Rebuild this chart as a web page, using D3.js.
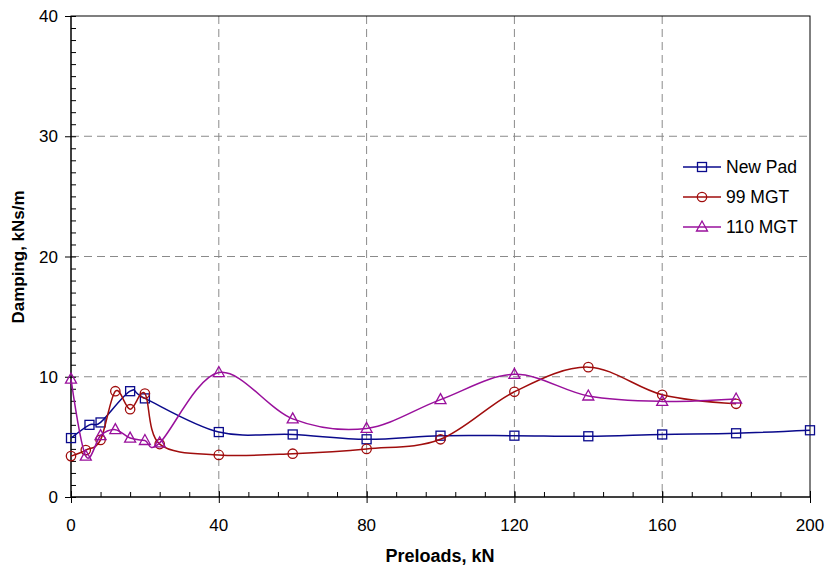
<!DOCTYPE html>
<html>
<head>
<meta charset="utf-8">
<script src="https://cdnjs.cloudflare.com/ajax/libs/d3/7.8.5/d3.min.js"></script>
<style>
  body { margin: 0; background: #fff; }
  text { font-family: "Liberation Sans", Arial, sans-serif; fill: #000; }
</style>
</head>
<body>
<script>
// data
var padX = [0, 5, 8, 16, 20, 40, 60, 80, 100, 120, 140, 160, 180, 200];
var padY = [4.9, 6.0, 6.2, 8.8, 8.2, 5.4, 5.2, 4.8, 5.1, 5.1, 5.05, 5.2, 5.3, 5.55];

var mgt99X = [0, 4, 8, 12, 16, 20, 24, 40, 60, 80, 100, 120, 140, 160, 180];
var mgt99Y = [3.4, 3.9, 4.75, 8.8, 7.3, 8.6, 4.4, 3.5, 3.6, 4.0, 4.8, 8.75, 10.8, 8.5, 7.75];

var mgt110X = [0, 4, 8, 12, 16, 20, 24, 40, 60, 80, 100, 120, 140, 160, 180];
var mgt110Y = [9.8, 3.4, 5.1, 5.6, 4.9, 4.7, 4.5, 10.35, 6.5, 5.7, 8.1, 10.2, 8.4, 7.95, 8.15];

var seriesNames = ['New Pad', '99 MGT', '110 MGT'];
var xTicks = [0, 40, 80, 120, 160, 200];
var yTicks = [0, 10, 20, 30, 40];

var series = [
    { name: seriesNames[0], x: padX, y: padY, color: '#0a0a8c', marker: 'square' },
    { name: seriesNames[1], x: mgt99X, y: mgt99Y, color: '#a00d0d', marker: 'circle' },
    { name: seriesNames[2], x: mgt110X, y: mgt110Y, color: '#99109c', marker: 'triangle' }
];

var width = 827, height = 568;
var pLeft = 71, pRight = 810, pTop = 16, pBottom = 497;

var svg = d3.select('body').append('svg')
    .attr('width', width)
    .attr('height', height);

var x = d3.scaleLinear().domain([0, 200]).range([pLeft, pRight]);
var y = d3.scaleLinear().domain([0, 40]).range([pBottom, pTop]);

// grid
var grid = svg.append('g');
grid.selectAll('.gx')
    .data(xTicks.filter(function (d) { return d > 0 && d < 200; }))
    .enter().append('line')
    .attr('x1', d => x(d)).attr('x2', d => x(d))
    .attr('y1', pTop).attr('y2', pBottom)
    .attr('stroke', '#8a8a8a').attr('stroke-dasharray', '8,5');
grid.selectAll('.gy')
    .data(yTicks.filter(function (d) { return d > 0 && d < 40; }))
    .enter().append('line')
    .attr('y1', d => y(d)).attr('y2', d => y(d))
    .attr('x1', pLeft).attr('x2', pRight)
    .attr('stroke', '#8a8a8a').attr('stroke-dasharray', '8,5');

// plot border
svg.append('rect')
    .attr('x', pLeft).attr('y', pTop)
    .attr('width', pRight - pLeft).attr('height', pBottom - pTop)
    .attr('fill', 'none').attr('stroke', '#000');

// axes: minor ticks inside, major ticks crossing
var xMinor = svg.append('g').attr('transform', 'translate(0,' + pBottom + ')')
    .call(d3.axisBottom(x).tickValues(d3.range(0, 201, 8)).tickSize(-5).tickFormat(''));
var xMajor = svg.append('g').attr('transform', 'translate(0,' + pBottom + ')')
    .call(d3.axisBottom(x).tickValues(xTicks).tickSize(6).tickFormat(''));
xMajor.selectAll('.tick line').attr('y1', -6);

var yMinor = svg.append('g').attr('transform', 'translate(' + pLeft + ',0)')
    .call(d3.axisLeft(y).tickValues(d3.range(0, 41, 1)).tickSize(-5).tickFormat(''));
var yMajor = svg.append('g').attr('transform', 'translate(' + pLeft + ',0)')
    .call(d3.axisLeft(y).tickValues(yTicks).tickSize(6).tickFormat(''));

[xMinor, xMajor, yMinor, yMajor].forEach(function (a) {
    a.select('.domain').remove();
    a.selectAll('line').attr('stroke', '#000');
});

svg.append('line').attr('x1', pLeft).attr('x2', pRight).attr('y1', pBottom).attr('y2', pBottom).attr('stroke', '#000');
svg.append('line').attr('x1', pLeft).attr('x2', pLeft).attr('y1', pTop).attr('y2', pBottom).attr('stroke', '#000');

// tick labels
svg.append('g').selectAll('text')
    .data(xTicks).enter().append('text')
    .attr('x', d => x(d)).attr('y', 531)
    .attr('text-anchor', 'middle')
    .style('font-size', '17px')
    .text(d => d);
svg.append('g').selectAll('text')
    .data(yTicks).enter().append('text')
    .attr('x', 58).attr('y', d => y(d) + 6)
    .attr('text-anchor', 'end')
    .style('font-size', '17px')
    .text(d => d);

// axis titles
svg.append('text')
    .attr('x', 440).attr('y', 562)
    .attr('text-anchor', 'middle')
    .style('font-size', '18px').style('font-weight', 'bold')
    .text('Preloads, kN');
svg.append('text')
    .attr('transform', 'translate(24,257) rotate(-90)')
    .attr('text-anchor', 'middle')
    .style('font-size', '17px').style('font-weight', 'bold')
    .text('Damping, kNs/m');

function drawMarker(g, type, color) {
    if (type === 'square') {
        g.append('rect').attr('x', -4.5).attr('y', -4.5).attr('width', 9).attr('height', 9)
            .attr('fill', 'none').attr('stroke', color).attr('stroke-width', 1.3);
    } else if (type === 'circle') {
        g.append('circle').attr('r', 4.7)
            .attr('fill', 'none').attr('stroke', color).attr('stroke-width', 1.3);
    } else {
        g.append('path').attr('d', 'M0,-6L5.5,4L-5.5,4Z')
            .attr('fill', 'none').attr('stroke', color).attr('stroke-width', 1.3);
    }
}

// series
var line = d3.line()
    .x(d => x(d[0]))
    .y(d => y(d[1]))
    .curve(d3.curveCardinal.tension(0));

series.forEach(function (s) {
    var pts = s.x.map(function (v, i) { return [v, s.y[i]]; });
    svg.append('path')
        .datum(pts)
        .attr('d', line)
        .attr('fill', 'none')
        .attr('stroke', s.color)
        .attr('stroke-width', 1.5);
    pts.forEach(function (p) {
        var g = svg.append('g').attr('transform', 'translate(' + x(p[0]) + ',' + y(p[1]) + ')');
        drawMarker(g, s.marker, s.color);
    });
});

// legend
var legend = svg.append('g');
series.forEach(function (s, i) {
    var ly = 167 + i * 30;
    legend.append('line')
        .attr('x1', 683).attr('x2', 721).attr('y1', ly).attr('y2', ly)
        .attr('stroke', s.color).attr('stroke-width', 1.5);
    var g = legend.append('g').attr('transform', 'translate(702,' + ly + ')');
    drawMarker(g, s.marker, s.color);
    legend.append('text')
        .attr('x', 726).attr('y', ly + 6)
        .style('font-size', '17.5px')
        .text(s.name);
});
</script>
</body>
</html>
